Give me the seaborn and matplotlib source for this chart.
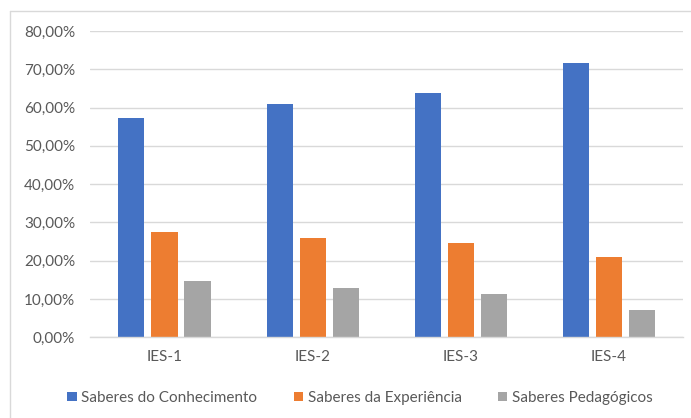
import pandas as pd
import matplotlib.pyplot as plt
import matplotlib
import numpy as np
import seaborn as sns
from matplotlib.lines import Line2D
from matplotlib.ticker import FuncFormatter

# values (percent)
categories = ["IES-1", "IES-2", "IES-3", "IES-4"]
series_names = ["Saberes do Conhecimento", "Saberes da Experiência", "Saberes Pedagógicos"]
conhecimento = [57.3, 61.0, 63.7, 71.6]
experiencia = [27.6, 25.9, 24.7, 21.0]
pedagogicos = [14.7, 12.8, 11.3, 7.1]
colors = ["#4472C4", "#ED7D31", "#A5A5A5"]

rows = []
for name, vals in zip(series_names, [conhecimento, experiencia, pedagogicos]):
    for cat, v in zip(categories, vals):
        rows.append({"ies": cat, "serie": name, "valor": v})
df = pd.DataFrame(rows)

sns.set_style("white")
plt.rcParams['font.family'] = ['Lato', 'DejaVu Sans']

fig = plt.figure(figsize=(6.91, 4.18), dpi=100)
left, right = 90.4 / 691, 683 / 691
bottom, top = 1 - 337.3 / 418, 1 - 31 / 418
ax = fig.add_axes([left, bottom, right - left, top - bottom])

sns.barplot(data=df, x="ies", y="valor", hue="serie", palette=colors,
            width=0.669, gap=0.21, ax=ax, legend=True, errorbar=None,
            linewidth=0, saturation=1)

ax.set_ylim(0, 80)
ax.set_xlim(-0.5, 3.5)
ax.set_yticks(np.arange(0, 81, 10))
ax.yaxis.set_major_formatter(FuncFormatter(lambda v, p: ("%.2f%%" % v).replace(".", ",")))
ax.grid(axis="y", color="#d9d9d9", linewidth=1)
ax.set_axisbelow(True)
for s in ["top", "right", "left"]:
    ax.spines[s].set_visible(False)
ax.spines["bottom"].set_color("#d9d9d9")
ax.spines["bottom"].set_linewidth(1)
ax.tick_params(axis="both", length=0, colors="#595959", labelsize=11)
ax.tick_params(axis="y", pad=11)
ax.tick_params(axis="x", pad=9)
ax.set_xlabel("")
ax.set_ylabel("")

handles, labels = ax.get_legend_handles_labels()
ax.legend_.remove()
fig.legend(handles, labels, loc="center", bbox_to_anchor=(360 / 691, 1 - 398 / 418),
           ncol=3, frameon=False, fontsize=11, labelcolor="#595959",
           handlelength=0.6, handleheight=0.6, handletextpad=0.3, columnspacing=2.4)

# chart area border (only left and top edges fall inside the image)
fig.lines.append(Line2D([10 / 691, 10 / 691], [0, 1 - 10.5 / 418], transform=fig.transFigure,
                        color="#d9d9d9", linewidth=1))
fig.lines.append(Line2D([10 / 691, 1], [1 - 10.5 / 418, 1 - 10.5 / 418], transform=fig.transFigure,
                        color="#d9d9d9", linewidth=1))

plt.savefig("out.png", dpi=100)
